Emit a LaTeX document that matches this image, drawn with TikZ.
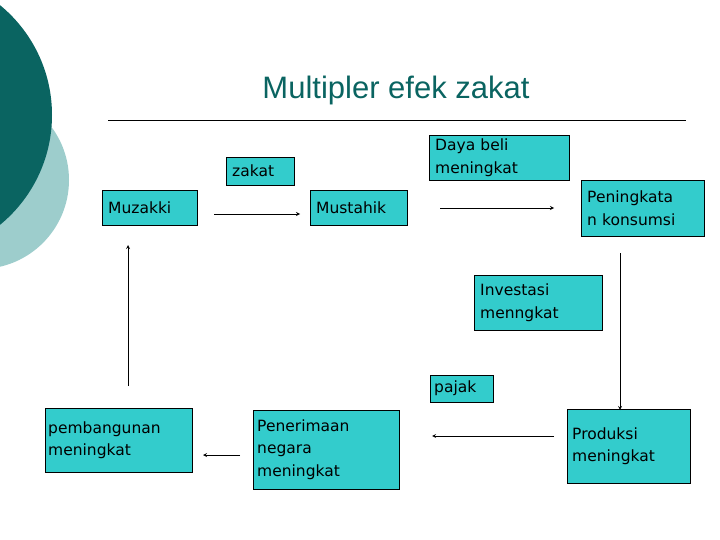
\documentclass[tikz,border=0pt]{standalone}
\usepackage{fontspec}
\setmainfont{DejaVu Sans}
\newfontfamily\titlefont{Liberation Sans}
\definecolor{boxc}{HTML}{33CCCC}
\definecolor{dteal}{HTML}{0A6461}
\definecolor{lteal}{HTML}{9DCDCC}
\begin{document}
\begin{tikzpicture}[x=1pt,y=-1pt,
  bx/.style={draw=black,fill=boxc,anchor=north west,align=left,inner ysep=0pt,inner xsep=6pt,font=\fontsize{15.5}{22.5}\selectfont},
  arr/.style={->,>=stealth,thick}]
\useasboundingbox (0,0) rectangle (720,540);
\fill[lteal] (-20,180) circle (89);
\fill[dteal] (-90,115) circle (142);
\node[font=\titlefont\fontsize{31}{36}\selectfont,text=dteal] (title) at (396,90) {Multipler efek zakat};
\draw (108,120) -- (686,120);
\node[bx,minimum width=68,minimum height=28,text width=56] (zk) at (226,157) {zakat};
\node[bx,minimum width=95,minimum height=35,text width=83] (mz) at (102,190) {Muzakki};
\node[bx,minimum width=97,minimum height=35,text width=85] (ms) at (310,190) {Mustahik};
\node[bx,minimum width=140,minimum height=45,text width=128] (db) at (429,135) {Daya beli\\meningkat};
\node[bx,minimum width=123,minimum height=56,text width=111] (pk) at (581,180) {Peningkata\\n konsumsi};
\node[bx,minimum width=128,minimum height=55,text width=116] (iv) at (474,275) {Investasi\\menngkat};
\node[bx,minimum width=63,minimum height=27,text width=55,inner xsep=4pt] (pj) at (430,375) {pajak};
\node[bx,minimum width=147,minimum height=64,text width=141,inner xsep=3pt] (pb) at (45,408) {pembangunan\\meningkat\\[12pt]};
\node[bx,minimum width=146,minimum height=79,text width=138,inner xsep=4pt] (pn) at (253,410) {Penerimaan\\negara\\meningkat};
\node[bx,minimum width=123,minimum height=74,text width=113,inner xsep=5pt] (pr) at (567,409) {Produksi\\meningkat};
\coordinate (a1) at (214,214); \coordinate (a2) at (300,214);
\coordinate (b1) at (440,208); \coordinate (b2) at (554,208);
\coordinate (c1) at (620,253); \coordinate (c2) at (620,410);
\coordinate (d1) at (554,436); \coordinate (d2) at (432,436);
\coordinate (e1) at (240,455); \coordinate (e2) at (203,455);
\coordinate (f1) at (128,386); \coordinate (f2) at (128,245);
\draw[arr] (a1) -- (a2);
\draw[arr] (b1) -- (b2);
\draw[arr] (c1) -- (c2);
\draw[arr] (d1) -- (d2);
\draw[arr] (e1) -- (e2);
\draw[arr] (f1) -- (f2);
\end{tikzpicture}
\end{document}
